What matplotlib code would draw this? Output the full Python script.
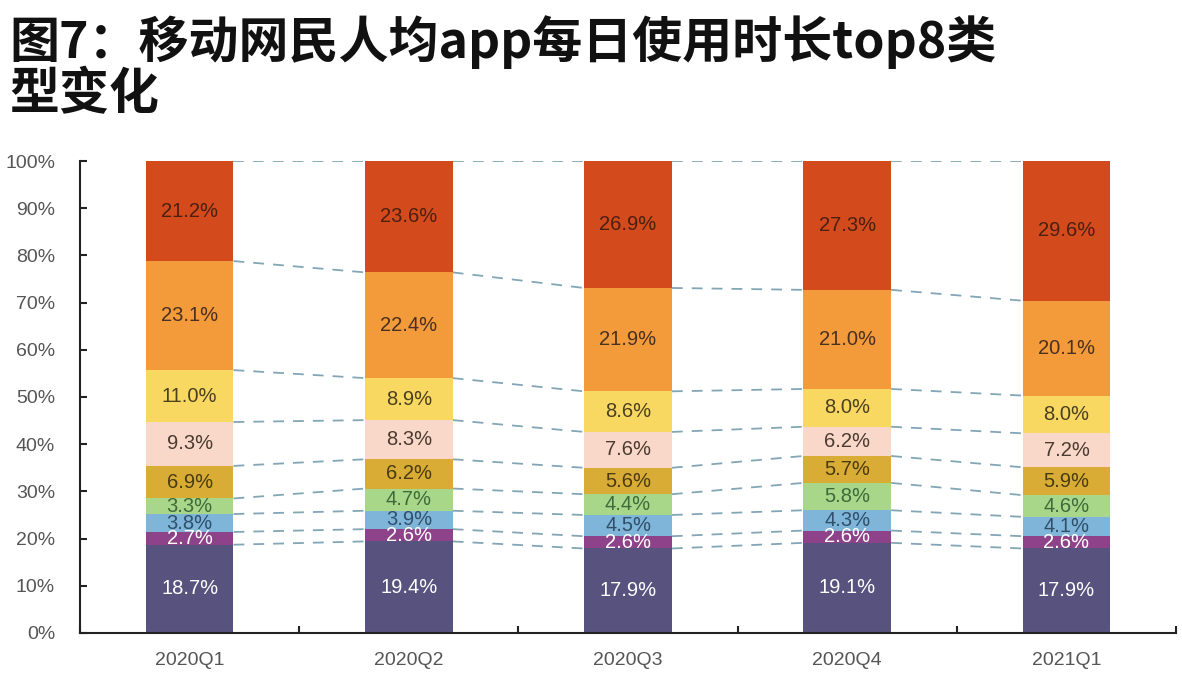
import numpy as np
import matplotlib.pyplot as plt

plt.rcParams['font.family'] = ['Liberation Sans', 'Noto Sans CJK SC', 'DejaVu Sans']

# 数据（自下而上，单位 %）
quarters = ["2020Q1", "2020Q2", "2020Q3", "2020Q4", "2021Q1"]
seg1 = [18.7, 19.4, 17.9, 19.1, 17.9]
seg2 = [2.7, 2.6, 2.6, 2.6, 2.6]
seg3 = [3.8, 3.9, 4.5, 4.3, 4.1]
seg4 = [3.3, 4.7, 4.4, 5.8, 4.6]
seg5 = [6.9, 6.2, 5.6, 5.7, 5.9]
seg6 = [9.3, 8.3, 7.6, 6.2, 7.2]
seg7 = [11.0, 8.9, 8.6, 8.0, 8.0]
seg8 = [23.1, 22.4, 21.9, 21.0, 20.1]
seg9 = [21.2, 23.6, 26.9, 27.3, 29.6]

segments = [seg1, seg2, seg3, seg4, seg5, seg6, seg7, seg8, seg9]
colors = ["#58527f", "#8e4289", "#7fb5d8", "#a9d78a", "#d9ad35",
          "#f9d8c9", "#f9d862", "#f39a3a", "#d34a1d"]
text_colors = ["white", "white", "#2f4f6a", "#3d6b3a", "#4a3a10",
               "#4a3a30", "#4a4020", "#4a3020", "#4a2010"]

fig = plt.figure(figsize=(11.82, 6.84), dpi=100)
ax = fig.add_axes([0.0677, 0.0746, 0.9273, 0.69])

x = np.arange(len(quarters))
w = 0.40
bottom = np.zeros(len(quarters))
levels = []
for vals, c, tc in zip(segments, colors, text_colors):
    vals = np.array(vals)
    ax.bar(x, vals, w, bottom=bottom, color=c, zorder=2)
    for xi, b, v in zip(x, bottom, vals):
        ax.text(xi, b + v / 2, f"{v:.1f}%", ha="center", va="center",
                fontsize=14.5, color=tc, zorder=3)
    bottom = bottom + vals
    levels.append(bottom.copy())

# 连接虚线
for lev in levels:
    for i in range(len(x) - 1):
        ax.plot([x[i] + w / 2, x[i + 1] - w / 2], [lev[i], lev[i + 1]],
                ls=(0, (6, 5)), color="#82a6b5", lw=1.3, zorder=1)

ax.set_xlim(-0.5, 4.5)
ax.set_ylim(0, 100)
ax.set_yticks(np.arange(0, 101, 10))
ax.set_yticklabels([f"{v}%" for v in range(0, 101, 10)], fontsize=14, color="#555555")
ax.set_xticks(x)
ax.set_xticklabels(quarters, fontsize=14, color="#555555")
ax.set_xticks(np.arange(-0.5, 5, 1), minor=True)
ax.tick_params(axis="x", which="major", length=0, pad=14)
ax.tick_params(axis="x", which="minor", direction="in", length=5, width=1.5, color="#222222")
ax.tick_params(axis="y", direction="in", length=5, width=1.5, color="#222222", pad=18)
for s in ["top", "right"]:
    ax.spines[s].set_visible(False)
ax.spines["left"].set_color("#222222")
ax.spines["bottom"].set_color("#222222")
ax.spines["left"].set_linewidth(1.5)
ax.spines["bottom"].set_linewidth(1.5)

fig.text(0.008, 0.978, "图7：移动网民人均app每日使用时长top8类\n型变化",
         ha="left", va="top", fontsize=36, fontweight="bold", linespacing=1.0,
         family=["Noto Sans CJK SC", "DejaVu Sans"], color="#111111")

fig.savefig("out.png", dpi=100, facecolor="white")
